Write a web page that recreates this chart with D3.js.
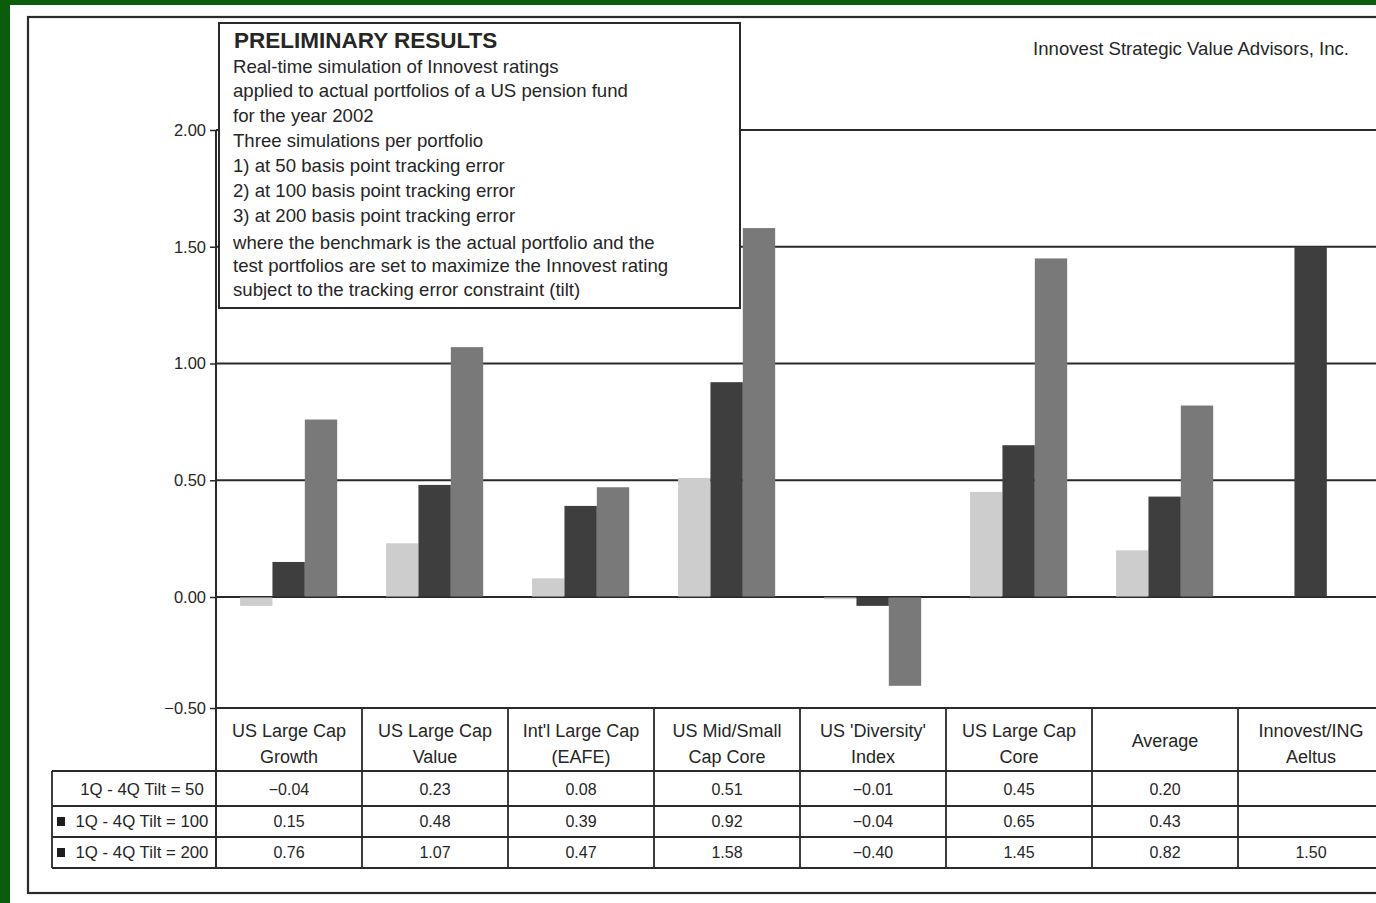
<!DOCTYPE html>
<html>
<head>
<meta charset="utf-8">
<script src="https://cdn.jsdelivr.net/npm/d3@7"></script>
<style>
  html, body { margin: 0; padding: 0; background: #fff; }
  svg { display: block; }
  text { font-family: "Liberation Sans", Arial, Helvetica, sans-serif; fill: #262626; }
</style>
</head>
<body>
<svg id="chart" width="1376" height="903"></svg>
<script>
// ---------- data ----------
const categories = [
  "US Large Cap\nGrowth",
  "US Large Cap\nValue",
  "Int'l Large Cap\n(EAFE)",
  "US Mid/Small\nCap Core",
  "US 'Diversity'\nIndex",
  "US Large Cap\nCore",
  "Average",
  "Innovest/ING\nAeltus"
];
const seriesNames = ["1Q - 4Q Tilt = 50", "1Q - 4Q Tilt = 100", "1Q - 4Q Tilt = 200"];
const tilt50  = [-0.04, 0.23, 0.08, 0.51, -0.01, 0.45, 0.20, null];
const tilt100 = [0.15, 0.48, 0.39, 0.92, -0.04, 0.65, 0.43, null];
const tilt200 = [0.76, 1.07, 0.47, 1.58, -0.40, 1.45, 0.82, 1.50];
const yTicks = [-0.5, 0, 0.5, 1.0, 1.5, 2.0];
const seriesColors = ["#cdcdcd", "#3e3e3e", "#797979"];
const legendMarkers = [null, "#1e1e1e", "#1e1e1e"];
const noteTitle = "PRELIMINARY RESULTS";
const noteLines = [
  "Real-time simulation of Innovest ratings",
  "applied to actual portfolios of a US pension fund",
  "for the year 2002",
  "Three simulations per portfolio",
  "1) at 50 basis point tracking error",
  "2) at 100 basis point tracking error",
  "3) at 200 basis point tracking error",
  "where the benchmark is the actual portfolio and the",
  "test portfolios are set to maximize the Innovest rating",
  "subject to the tracking error constraint (tilt)"
];
const companyText = "Innovest Strategic Value Advisors, Inc.";

const series = [tilt50, tilt100, tilt200];

// ---------- layout ----------
const svg = d3.select("#chart");
const lineCol = "#2a2a2a";
const plotLeft = 216, plotRight = 1384;
const tableTop = 708, rowLines = [771, 806, 837, 868];
const labelLeft = 52;

const x0 = d3.scaleBand().domain(d3.range(categories.length)).range([plotLeft, plotRight]);
const bw = x0.bandwidth();
const x1 = d3.scaleBand().domain([0, 1, 2]).range([bw * 0.165, bw * 0.83]);
const y = d3.scaleLinear().domain([-0.5, 0, 2.0]).range([708, 597, 130]);

// page background
svg.append("rect").attr("width", 1376).attr("height", 903).attr("fill", "#fff");
// green scan border
svg.append("rect").attr("x", 0).attr("y", 0).attr("width", 1376).attr("height", 5).attr("fill", "#0b5c0b");
svg.append("rect").attr("x", 0).attr("y", 0).attr("width", 10).attr("height", 903).attr("fill", "#0b5c0b");

// outer frame
svg.append("rect").attr("x", 28).attr("y", 17).attr("width", 1400).attr("height", 876)
  .attr("fill", "none").attr("stroke", lineCol).attr("stroke-width", 2.2);

// gridlines
svg.append("g").selectAll("line").data(yTicks).join("line")
  .attr("x1", plotLeft).attr("x2", plotRight + 20)
  .attr("y1", d => y(d)).attr("y2", d => y(d))
  .attr("stroke", lineCol).attr("stroke-width", 2);

// y axis
const yAxis = d3.axisLeft(y).tickValues(yTicks).tickFormat(d3.format(".2f")).tickSize(6).tickPadding(4);
const gy = svg.append("g").attr("transform", `translate(${plotLeft},0)`).call(yAxis);
gy.select(".domain").remove();
gy.selectAll(".tick line").attr("stroke", lineCol).attr("stroke-width", 1.5);
gy.selectAll(".tick text").style("font-size", "16.5px").attr("fill", "#333").style("font-family", '"Liberation Sans", Arial, sans-serif');
svg.append("line").attr("x1", plotLeft).attr("x2", plotLeft).attr("y1", y(2.0)).attr("y2", rowLines[3])
  .attr("stroke", lineCol).attr("stroke-width", 2);

// note box
svg.append("rect").attr("x", 219).attr("y", 23).attr("width", 521).attr("height", 285)
  .attr("fill", "#fff").attr("stroke", lineCol).attr("stroke-width", 2);
svg.append("text").attr("x", 234).attr("y", 40).attr("dy", "0.35em")
  .style("font-size", "22.5px").style("font-weight", "bold").text(noteTitle);
svg.append("g").selectAll("text").data(noteLines).join("text")
  .attr("x", 233)
  .attr("y", (d, i) => i < 7 ? 66 + 24.9 * i : 242 + 23.5 * (i - 7))
  .attr("dy", "0.35em")
  .style("font-size", "18.6px")
  .text(d => d);

// company
svg.append("text").attr("x", 1349).attr("y", 48).attr("dy", "0.35em").attr("text-anchor", "end")
  .style("font-size", "18.6px").text(companyText);

// bars
const barData = [];
categories.forEach((c, ci) => {
  const present = series.map((s, si) => ({ si, v: s[ci] })).filter(d => d.v !== null && d.v !== undefined);
  present.forEach(d => {
    const slot = present.length === 1 ? 1 : d.si;
    const color = present.length === 1 ? seriesColors[1] : seriesColors[d.si];
    barData.push({ ci, slot, v: d.v, color });
  });
});
svg.append("g").selectAll("rect").data(barData).join("rect")
  .attr("x", d => x0(d.ci) + x1(d.slot))
  .attr("width", x1.bandwidth())
  .attr("y", d => y(Math.max(0, d.v)))
  .attr("height", d => Math.abs(y(d.v) - y(0)))
  .attr("fill", d => d.color);

// zero line on top of bars
svg.append("line").attr("x1", plotLeft).attr("x2", plotRight + 20).attr("y1", y(0)).attr("y2", y(0))
  .attr("stroke", lineCol).attr("stroke-width", 1.5).attr("opacity", 0.6);

// ---------- data table ----------
const tg = svg.append("g");
tg.selectAll("line.h").data(rowLines).join("line")
  .attr("x1", labelLeft).attr("x2", plotRight + 20)
  .attr("y1", d => d).attr("y2", d => d)
  .attr("stroke", lineCol).attr("stroke-width", 1.8);
const colEdges = d3.range(categories.length + 1).map(i => i < categories.length ? x0(i) : plotRight);
tg.selectAll("line.v").data(colEdges).join("line")
  .attr("x1", d => d).attr("x2", d => d)
  .attr("y1", tableTop).attr("y2", rowLines[3])
  .attr("stroke", lineCol).attr("stroke-width", 1.8);
tg.append("line").attr("x1", labelLeft).attr("x2", labelLeft).attr("y1", rowLines[0]).attr("y2", rowLines[3])
  .attr("stroke", lineCol).attr("stroke-width", 1.8);

// category headers
categories.forEach((c, ci) => {
  const parts = c.split("\n");
  const cx = x0(ci) + bw / 2;
  const ys = parts.length === 1 ? [741] : [731, 757];
  parts.forEach((p, pi) => {
    tg.append("text").attr("x", cx).attr("y", ys[pi]).attr("dy", "0.35em")
      .attr("text-anchor", "middle").style("font-size", "18px").text(p);
  });
});

// rows
const rowCenters = [789, 821.5, 852.5];
const fmt = d3.format(".2f");
series.forEach((s, si) => {
  if (legendMarkers[si]) {
    tg.append("rect").attr("x", 57).attr("y", rowCenters[si] - 4.5).attr("width", 8).attr("height", 9)
      .attr("fill", legendMarkers[si]);
  }
  tg.append("text").attr("x", 142).attr("y", rowCenters[si]).attr("dy", "0.35em")
    .attr("text-anchor", "middle").style("font-size", "16.8px").text(seriesNames[si]);
  s.forEach((v, ci) => {
    if (v === null || v === undefined) return;
    tg.append("text").attr("x", x0(ci) + bw / 2).attr("y", rowCenters[si]).attr("dy", "0.35em")
      .attr("text-anchor", "middle").style("font-size", "16px").text(fmt(v));
  });
});
</script>
</body>
</html>
